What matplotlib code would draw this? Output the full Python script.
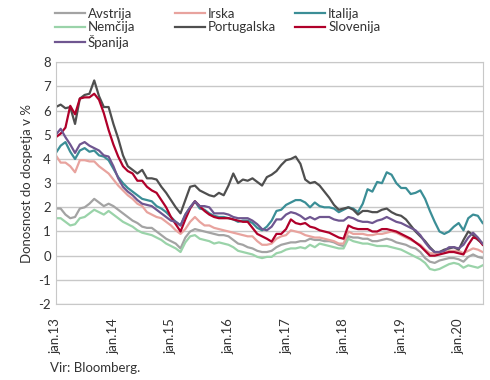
import numpy as np
import matplotlib.pyplot as plt

# monthly yields, jan.2013 - jun.2020
avstrija = [1.95, 1.95, 1.7, 1.55, 1.6, 1.95, 2.0, 2.15, 2.35, 2.2, 2.05, 2.15,
            2.05, 1.9, 1.75, 1.6, 1.45, 1.35, 1.2, 1.15, 1.15, 1.0, 0.85, 0.7,
            0.6, 0.5, 0.3, 0.75, 1.0, 1.1, 1.05, 1.0, 0.95, 0.9, 0.85, 0.85,
            0.8, 0.65, 0.5, 0.45, 0.35, 0.3, 0.2, 0.15, 0.15, 0.2, 0.35, 0.45,
            0.5, 0.55, 0.55, 0.6, 0.6, 0.7, 0.65, 0.65, 0.6, 0.6, 0.55, 0.45,
            0.4, 0.8, 0.75, 0.75, 0.7, 0.7, 0.6, 0.6, 0.65, 0.7, 0.65, 0.55,
            0.5, 0.45, 0.35, 0.3, 0.15, -0.1, -0.25, -0.3, -0.2, -0.15, -0.1, -0.1,
            -0.15, -0.25, -0.05, 0.05, -0.05, -0.1]
irska = [4.15, 3.85, 3.85, 3.7, 3.45, 3.95, 3.95, 3.9, 3.9, 3.7, 3.55, 3.4,
         3.15, 2.9, 2.7, 2.5, 2.35, 2.15, 2.05, 1.8, 1.7, 1.6, 1.55, 1.4,
         1.25, 1.05, 0.9, 1.1, 1.4, 1.6, 1.4, 1.25, 1.25, 1.15, 1.1, 1.05,
         1.0, 0.95, 0.9, 0.85, 0.8, 0.8, 0.6, 0.45, 0.45, 0.5, 0.7, 0.8,
         0.85, 1.05, 1.0, 0.95, 0.85, 0.8, 0.75, 0.75, 0.7, 0.65, 0.6, 0.5,
         0.5, 1.0, 0.9, 0.9, 0.9, 0.85, 0.85, 0.9, 0.9, 0.95, 1.0, 0.95,
         0.85, 0.75, 0.65, 0.55, 0.45, 0.25, 0.1, 0.1, 0.15, 0.15, 0.2, 0.2,
         0.2, 0.1, 0.2, 0.3, 0.25, 0.15]
italija = [4.25, 4.55, 4.7, 4.3, 4.0, 4.35, 4.45, 4.3, 4.35, 4.15, 4.1, 3.95,
           3.6, 3.25, 3.0, 2.8, 2.65, 2.5, 2.35, 2.3, 2.25, 2.05, 1.95, 1.8,
           1.6, 1.4, 1.25, 1.7, 2.0, 2.25, 1.95, 1.9, 1.75, 1.65, 1.6, 1.6,
           1.55, 1.5, 1.4, 1.45, 1.45, 1.35, 1.15, 1.05, 1.2, 1.45, 1.85, 1.9,
           2.1, 2.2, 2.3, 2.3, 2.2, 2.0, 2.2, 2.05, 2.0, 2.0, 1.95, 1.8,
           1.9, 2.0, 1.95, 1.8, 2.15, 2.75, 2.65, 3.05, 3.0, 3.45, 3.35, 3.0,
           2.8, 2.8, 2.55, 2.6, 2.7, 2.35, 1.85, 1.4, 1.0, 0.9, 1.0, 1.2,
           1.35, 1.05, 1.55, 1.7, 1.65, 1.35]
nemcija = [1.55, 1.55, 1.4, 1.25, 1.3, 1.55, 1.6, 1.75, 1.9, 1.8, 1.7, 1.85,
           1.7, 1.55, 1.4, 1.3, 1.2, 1.05, 0.95, 0.9, 0.85, 0.75, 0.65, 0.5,
           0.4, 0.3, 0.15, 0.55, 0.8, 0.85, 0.7, 0.65, 0.6, 0.5, 0.55, 0.5,
           0.45, 0.35, 0.2, 0.15, 0.1, 0.05, -0.05, -0.1, -0.05, -0.05, 0.1, 0.15,
           0.25, 0.3, 0.3, 0.35, 0.3, 0.45, 0.35, 0.5, 0.45, 0.4, 0.35, 0.3,
           0.3, 0.7, 0.6, 0.55, 0.5, 0.5, 0.45, 0.4, 0.4, 0.4, 0.35, 0.3,
           0.25, 0.15, 0.05, -0.05, -0.15, -0.3, -0.55, -0.6, -0.55, -0.45, -0.35, -0.3,
           -0.35, -0.5, -0.4, -0.45, -0.5, -0.4]
portugalska = [6.15, 6.25, 6.1, 6.15, 5.45, 6.5, 6.65, 6.7, 7.25, 6.6, 6.15, 6.15,
               5.45, 4.85, 4.15, 3.7, 3.55, 3.4, 3.55, 3.2, 3.2, 3.15, 2.85, 2.6,
               2.3, 2.0, 1.75, 2.3, 2.85, 2.9, 2.7, 2.6, 2.5, 2.45, 2.6, 2.5,
               2.9, 3.4, 3.0, 3.15, 3.1, 3.2, 3.05, 2.9, 3.25, 3.35, 3.5, 3.75,
               3.95, 4.0, 4.1, 3.8, 3.15, 3.0, 3.05, 2.9, 2.65, 2.4, 2.1, 1.9,
               1.95, 2.0, 1.9, 1.7, 1.85, 1.85, 1.8, 1.8, 1.9, 1.95, 1.8, 1.7,
               1.65, 1.5, 1.25, 1.0, 0.8, 0.6, 0.35, 0.15, 0.15, 0.25, 0.3, 0.35,
               0.25, 0.65, 1.0, 0.85, 0.65, 0.5]
slovenija = [4.9, 5.05, 5.3, 6.2, 5.85, 6.5, 6.55, 6.55, 6.7, 6.45, 5.9, 5.2,
             4.6, 4.1, 3.7, 3.5, 3.4, 3.1, 3.1, 2.85, 2.7, 2.6, 2.3, 2.0,
             1.6, 1.3, 1.0, 1.5, 1.95, 2.25, 2.05, 1.85, 1.7, 1.6, 1.55, 1.55,
             1.55, 1.5, 1.45, 1.4, 1.4, 1.15, 0.9, 0.8, 0.7, 0.58, 0.9, 0.9,
             1.1, 1.5, 1.35, 1.3, 1.35, 1.2, 1.15, 1.05, 1.0, 0.95, 0.85, 0.75,
             0.7, 1.25, 1.15, 1.1, 1.1, 1.1, 1.0, 1.0, 1.1, 1.1, 1.05, 1.0,
             0.9, 0.8, 0.7, 0.55, 0.4, 0.2, 0.0, 0.0, 0.05, 0.1, 0.15, 0.15,
             0.1, 0.05, 0.45, 0.75, 0.7, 0.45]
spanija = [5.0, 5.25, 4.9, 4.6, 4.25, 4.6, 4.7, 4.55, 4.45, 4.35, 4.15, 4.1,
           3.7, 3.2, 2.85, 2.65, 2.5, 2.3, 2.15, 2.1, 2.05, 1.9, 1.75, 1.6,
           1.45, 1.4, 1.25, 1.7, 2.0, 2.25, 2.05, 2.05, 2.0, 1.75, 1.75, 1.75,
           1.7, 1.6, 1.55, 1.55, 1.55, 1.45, 1.3, 1.1, 1.05, 1.2, 1.5, 1.5,
           1.7, 1.8, 1.75, 1.65, 1.5, 1.6, 1.5, 1.6, 1.6, 1.6, 1.5, 1.45,
           1.45, 1.6, 1.55, 1.45, 1.4, 1.4, 1.35, 1.45, 1.5, 1.6, 1.5, 1.4,
           1.35, 1.25, 1.15, 1.05, 0.85, 0.55, 0.3, 0.15, 0.15, 0.2, 0.35, 0.35,
           0.3, 0.45, 0.75, 0.95, 0.75, 0.5]

tick_labels = ['jan.13', 'jan.14', 'jan.15', 'jan.16', 'jan.17', 'jan.18', 'jan.19', 'jan.20']

plt.rcParams['font.family'] = ['Lato', 'DejaVu Sans']
plt.rcParams['font.size'] = 9
plt.rcParams['axes.unicode_minus'] = False

fig = plt.figure(figsize=(4.9, 3.8), dpi=100)
ax = fig.add_axes([0.114, 0.2, 0.871, 0.636])

x = np.arange(len(avstrija))
series = [
    ('Avstrija', avstrija, '#a3a3a3'),
    ('Irska', irska, '#e8a39e'),
    ('Italija', italija, '#3b8e96'),
    ('Nemčija', nemcija, '#9ad3a9'),
    ('Portugalska', portugalska, '#4f4f4f'),
    ('Slovenija', slovenija, '#b0002a'),
    ('Španija', spanija, '#6f5690'),
]
lines = {}
for name, vals, col in series:
    lines[name], = ax.plot(x, vals, color=col, lw=1.6, label=name)

ax.set_xlim(0, len(avstrija) - 1)
ax.set_ylim(-2, 8)
ax.set_yticks(range(-2, 9))
ax.set_xticks(range(0, len(avstrija), 12))
ax.set_xticklabels(tick_labels, rotation=90)
ax.tick_params(length=0, labelsize=9.5, colors='#333333')
ax.tick_params(axis='x', pad=10)
ax.grid(axis='y', color='#c8c8c8', lw=1)
ax.set_axisbelow(True)
for s in ax.spines.values():
    s.set_color('#c8c8c8')
ax.set_ylabel('Donosnost do dospetja v %', fontsize=9.5, color='#333333', labelpad=4)

# three legend columns at fixed spacing, like the original
columns = [['Avstrija', 'Nemčija', 'Španija'], ['Irska', 'Portugalska'], ['Italija', 'Slovenija']]
for i, names in enumerate(columns):
    leg = fig.legend([lines[n] for n in names], names, loc='upper left',
                     bbox_to_anchor=(0.088 + i * 0.245, 1.01), frameon=False,
                     fontsize=9.5, handlelength=2.3, handletextpad=0.2,
                     labelspacing=0.1, labelcolor='#333333')

fig.text(0.102, 0.022, 'Vir: Bloomberg.', fontsize=9.5, color='#333333')

fig.savefig('out.png', dpi=100)
